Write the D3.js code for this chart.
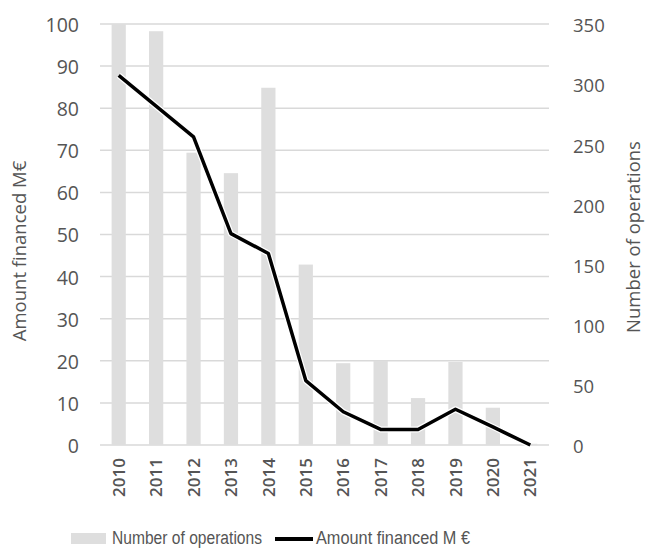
<!DOCTYPE html>
<html>
<head>
<meta charset="utf-8">
<script src="https://cdn.jsdelivr.net/npm/d3@7"></script>
<style>
  body { margin: 0; background: #fff; }
  text { font-family: "Open Sans", sans-serif; fill: #555; }
</style>
</head>
<body>
<svg id="chart" width="646" height="549"></svg>
<script>
const years = ["2010", "2011", "2012", "2013", "2014", "2015", "2016", "2017", "2018", "2019", "2020", "2021"];
const operations = [350, 344, 243, 226, 297, 150, 68, 70, 39, 69, 31, 1];
const amount = [87.8, 80.5, 73.2, 50.2, 45.5, 15.3, 7.9, 3.7, 3.7, 8.5, 4.3, 0];
const leftTicks = [0, 10, 20, 30, 40, 50, 60, 70, 80, 90, 100];
const rightTicks = [0, 50, 100, 150, 200, 250, 300, 350];

const margin = {top: 24, right: 97, bottom: 104, left: 100},
  width = 646 - margin.left - margin.right,
  height = 549 - margin.top - margin.bottom;

const svg = d3.select("#chart");
const g = svg.append("g")
  .attr("transform", "translate(" + margin.left + "," + margin.top + ")");

const x = d3.scaleBand().domain(years).range([0, width]).paddingInner(0.62).paddingOuter(0.31);
const yL = d3.scaleLinear().domain([0, 100]).range([height, 0]);
const yR = d3.scaleLinear().domain([0, 350]).range([height, 0]);

// gridlines
g.append("g")
  .selectAll("line")
  .data(leftTicks)
  .join("line")
  .attr("x1", 0).attr("x2", width)
  .attr("y1", d => yL(d)).attr("y2", d => yL(d))
  .attr("stroke", "#d9d9d9")
  .attr("stroke-width", 1.5);

// bars
g.append("g")
  .selectAll("rect")
  .data(years)
  .join("rect")
  .attr("x", d => x(d))
  .attr("width", x.bandwidth())
  .attr("y", (d, i) => yR(operations[i]))
  .attr("height", (d, i) => height - yR(operations[i]))
  .attr("fill", "#dedede");

// line
const line = d3.line()
  .x((d, i) => x(years[i]) + x.bandwidth() / 2)
  .y(d => yL(d));

g.append("path")
  .attr("d", line(amount))
  .attr("fill", "none")
  .attr("stroke", "#fff")
  .attr("stroke-width", 6)
  .attr("stroke-linejoin", "round");
g.append("path")
  .attr("d", line(amount))
  .attr("fill", "none")
  .attr("stroke", "#000")
  .attr("stroke-width", 3.5)
  .attr("stroke-linejoin", "round");

// left axis
const yAxisL = d3.axisLeft(yL).tickValues(leftTicks).tickSize(0).tickPadding(21);
const gl = g.append("g").call(yAxisL);
gl.select(".domain").remove();
gl.selectAll("text").style("font-size", "19.5px").attr("fill", "#555").attr("dy", "0.38em");

// right axis
const yAxisR = d3.axisRight(yR).tickValues(rightTicks).tickSize(0).tickPadding(24);
const gr = g.append("g").attr("transform", "translate(" + width + ",0)").call(yAxisR);
gr.select(".domain").remove();
gr.selectAll("text").style("font-size", "18.5px").attr("fill", "#555").attr("dy", "0.42em");

// x axis
const xAxis = d3.axisBottom(x).tickSize(0);
const gx = g.append("g").attr("transform", "translate(0," + height + ")").call(xAxis);
gx.select(".domain").remove();
gx.selectAll("text")
  .style("font-size", "17px")
  .style("font-weight", "600")
  .attr("fill", "#555")
  .attr("transform", "rotate(-90)")
  .attr("text-anchor", "end")
  .attr("dy", "0.36em")
  .attr("y", 0)
  .attr("x", -13);

// axis titles
svg.append("text")
  .attr("transform", "translate(26,251) rotate(-90)")
  .attr("text-anchor", "middle")
  .style("font-size", "18.5px")
  .text("Amount financed M€");

svg.append("text")
  .attr("transform", "translate(640,237) rotate(-90)")
  .attr("text-anchor", "middle")
  .style("font-size", "18.5px")
  .text("Number of operations");

// legend
const legend = svg.append("g").attr("transform", "translate(0,538)");
legend.append("rect")
  .attr("x", 71).attr("y", -5).attr("width", 35).attr("height", 11)
  .attr("fill", "#dedede");
legend.append("text")
  .attr("x", 112).attr("y", 0).attr("dy", "0.36em")
  .attr("textLength", 150).attr("lengthAdjust", "spacingAndGlyphs")
  .style("font-family", "'Liberation Sans Narrow', sans-serif")
  .style("font-size", "18px")
  .text("Number of operations");
legend.append("line")
  .attr("x1", 275).attr("x2", 313).attr("y1", 1).attr("y2", 1)
  .attr("stroke", "#000").attr("stroke-width", 4);
legend.append("text")
  .attr("x", 316).attr("y", 0).attr("dy", "0.36em")
  .attr("textLength", 154).attr("lengthAdjust", "spacingAndGlyphs")
  .style("font-family", "'Liberation Sans Narrow', sans-serif")
  .style("font-size", "18px")
  .text("Amount financed  M €");
</script>
</body>
</html>
